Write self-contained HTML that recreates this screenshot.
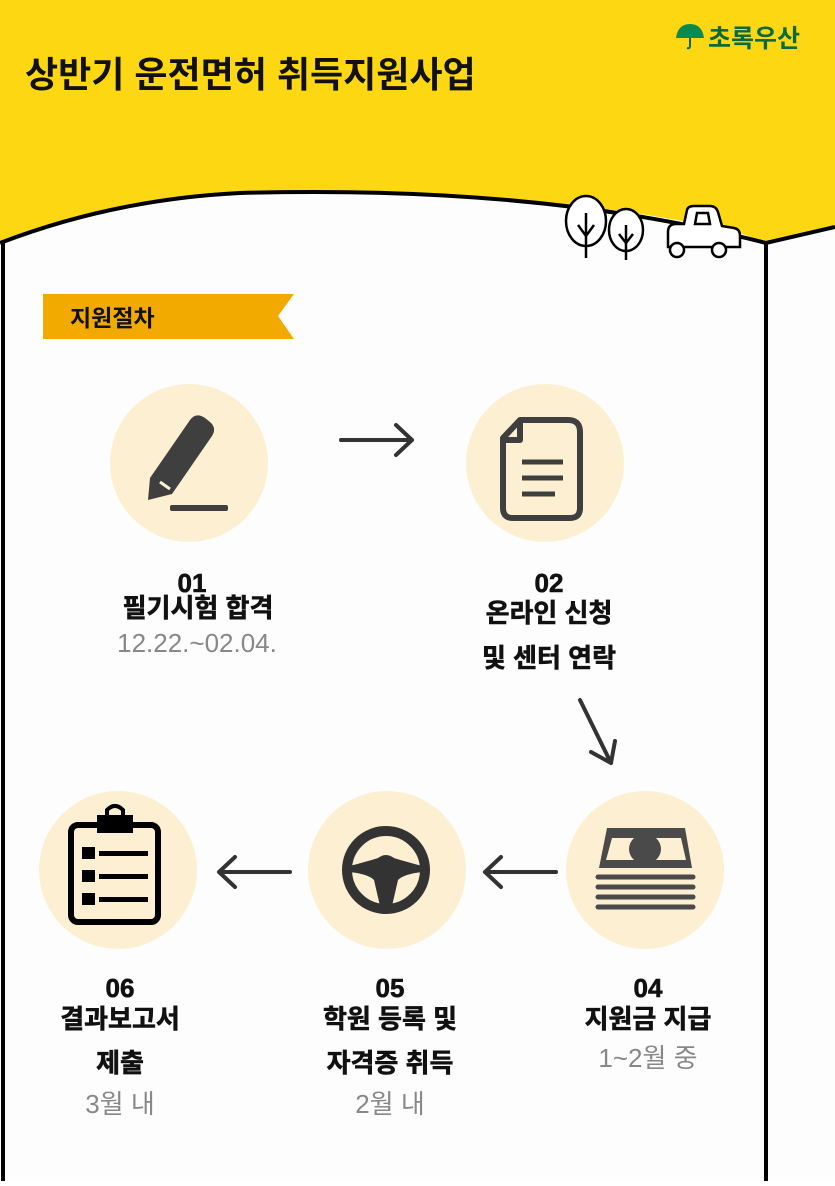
<!DOCTYPE html>
<html><head><meta charset="utf-8"><style>
body{margin:0;width:835px;height:1181px;overflow:hidden;background:#fff;font-family:"Liberation Sans","Noto Sans CJK KR",sans-serif}
svg text{font-family:"Liberation Sans","Noto Sans CJK KR",sans-serif}
</style></head><body>
<svg width="835" height="1181" viewBox="0 0 835 1181" xmlns="http://www.w3.org/2000/svg">
<rect width="835" height="1181" fill="#fdfdfd"/>
<path d="M0 0H835V227L766 243L740 233 C600 200 420 188 240 193 C140 198 60 220 0 243Z" fill="#fdd711"/>
<path d="M0 243 C60 220 140 198 240 193 C420 188 600 200 766 243 L835 227" fill="none" stroke="#000" stroke-width="4"/>
<line x1="3" y1="243" x2="3" y2="1181" stroke="#000" stroke-width="4"/>
<line x1="766" y1="243" x2="766" y2="1181" stroke="#000" stroke-width="4"/>
<g fill="#fff" stroke="#000" stroke-width="2.5">
<ellipse cx="586" cy="221" rx="20" ry="25"/>
<line x1="586" y1="213" x2="586" y2="258"/><path d="M578 225 L586 236 L594 225" fill="none"/>
<ellipse cx="626" cy="230" rx="17" ry="21"/>
<line x1="626" y1="225" x2="626" y2="260"/><path d="M619 234 L626 243 L633 234" fill="none"/>
<path d="M668 247 L668 232 Q668 224 676 224 L684 224 L687 210 Q688 206 694 206 L710 206 Q716 206 718 212 L722 226 L734 228 Q740 229 740 236 L740 247 Z"/>
<path d="M697 213 L708 213 L710 224 L695 224 Z"/>
<circle cx="677" cy="250" r="7"/><circle cx="719" cy="250" r="7"/>
</g>
<text x="25" y="87" font-size="36" font-weight="bold" fill="#111">상반기 운전면허 취득지원사업</text>
<path d="M676 38 Q678 24 690 24 Q702 24 704 38 Z" fill="#0a8a4f"/>
<path d="M690 38 L690 46 Q690 49 687 48" fill="none" stroke="#0a6a3f" stroke-width="2"/>
<text x="708" y="47" font-size="25" font-weight="bold" fill="#0b6a3b">초록우산</text>
<path d="M43 294 H294 L278 316 L294 339 H43Z" fill="#f2a900"/>
<text x="70" y="326" font-size="23" font-weight="bold" fill="#111">지원절차</text>
<g fill="#fdf0d2">
<circle cx="189" cy="463" r="79"/><circle cx="545" cy="463" r="79"/>
<circle cx="645" cy="870" r="79"/><circle cx="387" cy="870" r="79"/><circle cx="118" cy="870" r="79"/>
</g>
<g fill="#3f3f3f">
<path d="M148 500 L150 478 L190 420 Q196 412 205 418 L210 422 Q217 428 212 436 L172 494 Z"/>
<rect x="170" y="505" width="58" height="6" rx="2"/>
</g>
<path d="M160 482 L170 489" stroke="#fdf0d2" stroke-width="3"/>
<g fill="none" stroke="#3f3f3f" stroke-width="6" stroke-linejoin="round">
<path d="M520 420 H568 Q580 420 580 432 V508 Q580 518 570 518 H513 Q503 518 503 508 V438 Z"/>
<path d="M503 440 H520 V422"/>
</g>
<g stroke="#3f3f3f" stroke-width="5"><line x1="522" y1="462" x2="563" y2="462"/><line x1="522" y1="478" x2="563" y2="478"/><line x1="522" y1="494" x2="555" y2="494"/></g>
<path d="M607 828 H685 L692 868 H599 Z" fill="#4a4a4a"/>
<path d="M612 838 H681 L686 860 H606 Z" fill="#fdf0d2"/>
<ellipse cx="645" cy="849" rx="16" ry="15" fill="#4a4a4a"/>
<g stroke="#4a4a4a" stroke-width="5" stroke-linecap="round"><line x1="598" y1="877" x2="693" y2="877"/><line x1="598" y1="887" x2="693" y2="887"/><line x1="598" y1="897" x2="693" y2="897"/><line x1="598" y1="907" x2="693" y2="907"/></g>
<circle cx="386" cy="870" r="39" fill="none" stroke="#333" stroke-width="10"/>
<path d="M350 866 Q372 860 378 858 Q386 852 394 858 Q400 860 422 866 L422 872 Q404 874 398 880 L392 906 H380 L374 880 Q368 874 350 872Z" fill="#333"/>
<g fill="none" stroke="#000" stroke-width="6"><rect x="71" y="825" width="87" height="97" rx="7"/></g>
<rect x="97" y="815" width="36" height="18" fill="#000"/>
<path d="M107 815 V810 Q115 802 123 810 V815" fill="none" stroke="#000" stroke-width="4"/>
<g fill="#000"><rect x="82" y="847" width="13" height="12"/><rect x="82" y="870" width="13" height="12"/><rect x="82" y="893" width="13" height="12"/>
<rect x="99" y="851" width="49" height="5"/><rect x="99" y="874" width="49" height="5"/><rect x="99" y="897" width="49" height="5"/></g>
<g fill="none" stroke="#333" stroke-width="4" stroke-linecap="round" stroke-linejoin="round">
<path d="M341 440 H412 M396 425 L412 440 L396 455"/>
<path d="M580 700 L611 763 M591 752 L611 763 L615 741"/>
<path d="M556 872 H485 M501 857 L485 872 L501 887"/>
<path d="M290 872 H219 M235 857 L219 872 L235 887"/>
</g>
<g font-weight="bold" font-size="26" fill="#111" text-anchor="middle" stroke="#111" stroke-width="0.6">
<text x="192" y="592">01</text><text x="198" y="617">필기시험 합격</text>
<text x="549" y="592">02</text><text x="549" y="622">온라인 신청</text><text x="549" y="667">및 센터 연락</text>
<text x="120" y="997">06</text><text x="120" y="1028">결과보고서</text><text x="120" y="1072">제출</text>
<text x="390" y="997">05</text><text x="390" y="1028">학원 등록 및</text><text x="390" y="1072">자격증 취득</text>
<text x="648" y="997">04</text><text x="648" y="1028">지원금 지급</text>
</g>
<g font-size="26" fill="#888" text-anchor="middle">
<text x="197" y="652">12.22.~02.04.</text>
<text x="120" y="1113">3월 내</text>
<text x="390" y="1113">2월 내</text>
<text x="648" y="1067">1~2월 중</text>
</g>
</svg>
</body></html>
